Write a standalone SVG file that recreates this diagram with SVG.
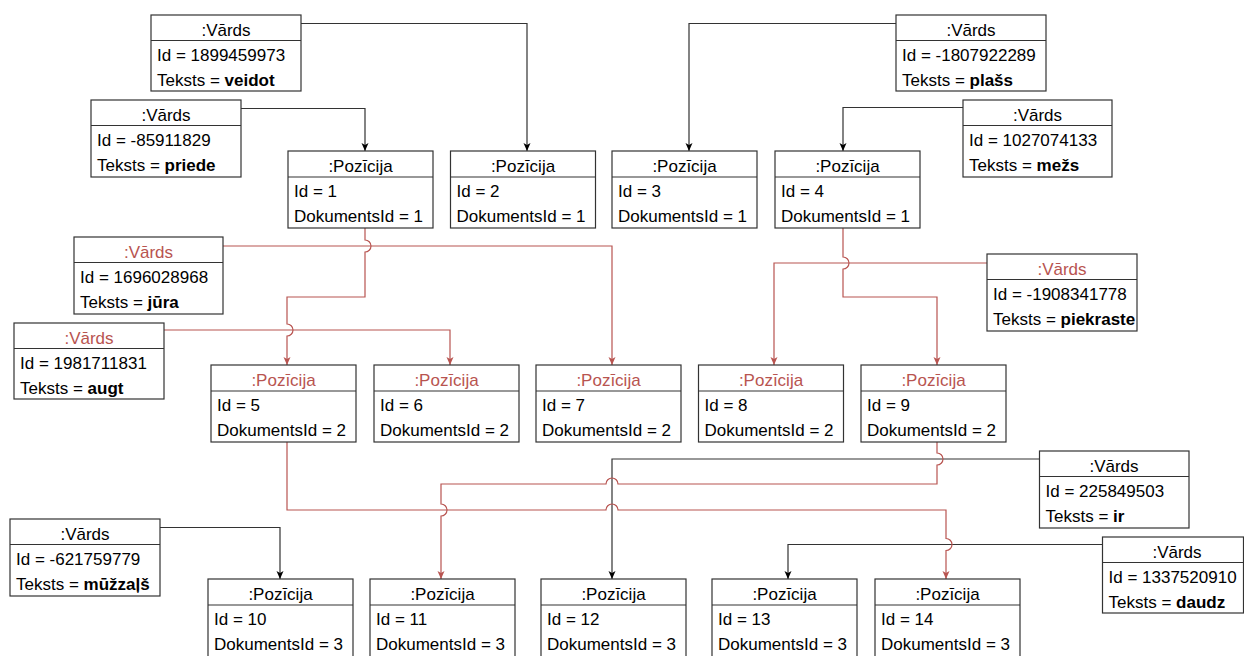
<svg xmlns="http://www.w3.org/2000/svg" width="1244" height="656" viewBox="0 0 1244 656">
  <style>
    .box { fill: #ffffff; stroke: #333333; stroke-width: 1.2; }
    .sep { stroke: #333333; stroke-width: 1.2; }
    .t { font-family: "Liberation Sans", Arial, Helvetica, sans-serif; font-size: 17px; fill: #000000; }
    .hd { text-anchor: middle; }
    .red { fill: #b85450; }
    .b { font-weight: bold; }
    .cb { fill: none; stroke: #333333; stroke-width: 1.2; }
    .cr { fill: none; stroke: #b85450; stroke-width: 1.2; }
  </style>
  <defs>
    <marker id="arrowBlack" viewBox="0 0 8 8" refX="8" refY="4" markerWidth="8" markerHeight="8" markerUnits="userSpaceOnUse" orient="auto">
      <path d="M0,0.5 L8,4 L0,7.5 L2,4 Z" fill="#000000"/>
    </marker>
    <marker id="arrowRed" viewBox="0 0 8 8" refX="8" refY="4" markerWidth="8" markerHeight="8" markerUnits="userSpaceOnUse" orient="auto">
      <path d="M0,0.5 L8,4 L0,7.5 L2,4 Z" fill="#b85450"/>
    </marker>
  </defs>

  <rect x="0" y="0" width="1244" height="656" fill="#ffffff"/>

  <!-- connectors -->
  <g id="connectors">
    <!-- document 1 -->
    <path class="cb" d="M301,23.5 H527 V151" marker-end="url(#arrowBlack)"/>
    <path class="cb" d="M241,108.5 H365 V151" marker-end="url(#arrowBlack)"/>
    <path class="cb" d="M896,23.5 H689 V151" marker-end="url(#arrowBlack)"/>
    <path class="cb" d="M963,107.5 H843 V151" marker-end="url(#arrowBlack)"/>
    <!-- document 2 -->
    <path class="cr" d="M365,228 V240 A6,6 0 0,1 365,252 V297 H287 V324 A6,6 0 0,1 287,336 V365" marker-end="url(#arrowRed)"/>
    <path class="cr" d="M223,246 H612 V365" marker-end="url(#arrowRed)"/>
    <path class="cr" d="M164,330 H450 V365" marker-end="url(#arrowRed)"/>
    <path class="cr" d="M843,228 V257 A6,6 0 0,1 843,269 V297 H937 V365" marker-end="url(#arrowRed)"/>
    <path class="cr" d="M987,263 H774 V365" marker-end="url(#arrowRed)"/>
    <!-- document 3 -->
    <path class="cb" d="M160,527.5 H280 V579" marker-end="url(#arrowBlack)"/>
    <path class="cb" d="M1039.5,459 H612 V579" marker-end="url(#arrowBlack)"/>
    <path class="cb" d="M1102.5,544.5 H788 V579" marker-end="url(#arrowBlack)"/>
    <path class="cr" d="M937,442 V453 A6,6 0 0,1 937,465 V484 H618 A6,6 0 0,0 606,484 H441 V504 A6,6 0 0,1 441,516 V579" marker-end="url(#arrowRed)"/>
    <path class="cr" d="M287,442 V510 H606 A6,6 0 0,1 618,510 H946 V538.5 A6,6 0 0,1 946,550.5 V579" marker-end="url(#arrowRed)"/>
  </g>

  <!-- top row -->
  <g id="vards-veidot">
    <rect class="box" x="151" y="15" width="150" height="76"/>
    <line class="sep" x1="151" y1="40.5" x2="301" y2="40.5"/>
    <text class="t hd" x="226" y="35.5">:Vārds</text>
    <text class="t" x="157" y="60.5">Id = 1899459973</text>
    <text class="t" x="157" y="85.5">Teksts = <tspan class="b">veidot</tspan></text>
  </g>
  <g id="vards-priede">
    <rect class="box" x="91" y="100" width="150" height="77"/>
    <line class="sep" x1="91" y1="125.5" x2="241" y2="125.5"/>
    <text class="t hd" x="166" y="120.5">:Vārds</text>
    <text class="t" x="97" y="145.5">Id = -85911829</text>
    <text class="t" x="97" y="170.5">Teksts = <tspan class="b">priede</tspan></text>
  </g>
  <g id="pozicija-1">
    <rect class="box" x="288" y="151" width="145" height="77"/>
    <line class="sep" x1="288" y1="177" x2="433" y2="177"/>
    <text class="t hd" x="360.5" y="172">:Pozīcija</text>
    <text class="t" x="294" y="197">Id = 1</text>
    <text class="t" x="294" y="222">DokumentsId = 1</text>
  </g>
  <g id="pozicija-2">
    <rect class="box" x="450.5" y="151" width="145" height="77"/>
    <line class="sep" x1="450.5" y1="177" x2="595.5" y2="177"/>
    <text class="t hd" x="523" y="172">:Pozīcija</text>
    <text class="t" x="456.5" y="197">Id = 2</text>
    <text class="t" x="456.5" y="222">DokumentsId = 1</text>
  </g>
  <g id="pozicija-3">
    <rect class="box" x="612" y="151" width="145" height="77"/>
    <line class="sep" x1="612" y1="177" x2="757" y2="177"/>
    <text class="t hd" x="684.5" y="172">:Pozīcija</text>
    <text class="t" x="618" y="197">Id = 3</text>
    <text class="t" x="618" y="222">DokumentsId = 1</text>
  </g>
  <g id="pozicija-4">
    <rect class="box" x="775" y="151" width="145" height="77"/>
    <line class="sep" x1="775" y1="177" x2="920" y2="177"/>
    <text class="t hd" x="847.5" y="172">:Pozīcija</text>
    <text class="t" x="781" y="197">Id = 4</text>
    <text class="t" x="781" y="222">DokumentsId = 1</text>
  </g>
  <g id="vards-plass">
    <rect class="box" x="896" y="15" width="150" height="76"/>
    <line class="sep" x1="896" y1="40.5" x2="1046" y2="40.5"/>
    <text class="t hd" x="971" y="35.5">:Vārds</text>
    <text class="t" x="902" y="60.5">Id = -1807922289</text>
    <text class="t" x="902" y="85.5">Teksts = <tspan class="b">plašs</tspan></text>
  </g>
  <g id="vards-mezs">
    <rect class="box" x="963" y="100" width="149" height="77"/>
    <line class="sep" x1="963" y1="125.5" x2="1112" y2="125.5"/>
    <text class="t hd" x="1037.5" y="120.5">:Vārds</text>
    <text class="t" x="969" y="145.5">Id = 1027074133</text>
    <text class="t" x="969" y="170.5">Teksts = <tspan class="b">mežs</tspan></text>
  </g>

  <!-- middle row -->
  <g id="vards-jura">
    <rect class="box" x="74" y="237" width="149" height="77"/>
    <line class="sep" x1="74" y1="262.5" x2="223" y2="262.5"/>
    <text class="t hd red" x="148.5" y="257.5">:Vārds</text>
    <text class="t" x="80" y="282.5">Id = 1696028968</text>
    <text class="t" x="80" y="307.5">Teksts = <tspan class="b">jūra</tspan></text>
  </g>
  <g id="vards-augt">
    <rect class="box" x="14" y="323" width="150" height="76"/>
    <line class="sep" x1="14" y1="348.5" x2="164" y2="348.5"/>
    <text class="t hd red" x="89" y="343.5">:Vārds</text>
    <text class="t" x="20" y="368.5">Id = 1981711831</text>
    <text class="t" x="20" y="393.5">Teksts = <tspan class="b">augt</tspan></text>
  </g>
  <g id="pozicija-5">
    <rect class="box" x="211" y="365" width="145" height="77"/>
    <line class="sep" x1="211" y1="391" x2="356" y2="391"/>
    <text class="t hd red" x="283.5" y="386">:Pozīcija</text>
    <text class="t" x="217" y="411">Id = 5</text>
    <text class="t" x="217" y="436">DokumentsId = 2</text>
  </g>
  <g id="pozicija-6">
    <rect class="box" x="374" y="365" width="145" height="77"/>
    <line class="sep" x1="374" y1="391" x2="519" y2="391"/>
    <text class="t hd red" x="446.5" y="386">:Pozīcija</text>
    <text class="t" x="380" y="411">Id = 6</text>
    <text class="t" x="380" y="436">DokumentsId = 2</text>
  </g>
  <g id="pozicija-7">
    <rect class="box" x="536" y="365" width="145" height="77"/>
    <line class="sep" x1="536" y1="391" x2="681" y2="391"/>
    <text class="t hd red" x="608.5" y="386">:Pozīcija</text>
    <text class="t" x="542" y="411">Id = 7</text>
    <text class="t" x="542" y="436">DokumentsId = 2</text>
  </g>
  <g id="pozicija-8">
    <rect class="box" x="698.5" y="365" width="145" height="77"/>
    <line class="sep" x1="698.5" y1="391" x2="843.5" y2="391"/>
    <text class="t hd red" x="771" y="386">:Pozīcija</text>
    <text class="t" x="704.5" y="411">Id = 8</text>
    <text class="t" x="704.5" y="436">DokumentsId = 2</text>
  </g>
  <g id="pozicija-9">
    <rect class="box" x="861" y="365" width="145" height="77"/>
    <line class="sep" x1="861" y1="391" x2="1006" y2="391"/>
    <text class="t hd red" x="933.5" y="386">:Pozīcija</text>
    <text class="t" x="867" y="411">Id = 9</text>
    <text class="t" x="867" y="436">DokumentsId = 2</text>
  </g>
  <g id="vards-piekraste">
    <rect class="box" x="987" y="254" width="150" height="77"/>
    <line class="sep" x1="987" y1="279.5" x2="1137" y2="279.5"/>
    <text class="t hd red" x="1062" y="274.5">:Vārds</text>
    <text class="t" x="993" y="299.5">Id = -1908341778</text>
    <text class="t" x="993" y="324.5">Teksts = <tspan class="b">piekraste</tspan></text>
  </g>

  <!-- bottom row -->
  <g id="vards-muzzals">
    <rect class="box" x="10" y="519" width="150" height="77"/>
    <line class="sep" x1="10" y1="544.5" x2="160" y2="544.5"/>
    <text class="t hd" x="85" y="539.5">:Vārds</text>
    <text class="t" x="16" y="564.5">Id = -621759779</text>
    <text class="t" x="16" y="589.5">Teksts = <tspan class="b">mūžzaļš</tspan></text>
  </g>
  <g id="pozicija-10">
    <rect class="box" x="208" y="579" width="145" height="78"/>
    <line class="sep" x1="208" y1="605" x2="353" y2="605"/>
    <text class="t hd" x="280.5" y="600">:Pozīcija</text>
    <text class="t" x="214" y="625">Id = 10</text>
    <text class="t" x="214" y="650">DokumentsId = 3</text>
  </g>
  <g id="pozicija-11">
    <rect class="box" x="370" y="579" width="145" height="78"/>
    <line class="sep" x1="370" y1="605" x2="515" y2="605"/>
    <text class="t hd" x="442.5" y="600">:Pozīcija</text>
    <text class="t" x="376" y="625">Id = 11</text>
    <text class="t" x="376" y="650">DokumentsId = 3</text>
  </g>
  <g id="pozicija-12">
    <rect class="box" x="541" y="579" width="145" height="78"/>
    <line class="sep" x1="541" y1="605" x2="686" y2="605"/>
    <text class="t hd" x="613.5" y="600">:Pozīcija</text>
    <text class="t" x="547" y="625">Id = 12</text>
    <text class="t" x="547" y="650">DokumentsId = 3</text>
  </g>
  <g id="pozicija-13">
    <rect class="box" x="712" y="579" width="145" height="78"/>
    <line class="sep" x1="712" y1="605" x2="857" y2="605"/>
    <text class="t hd" x="784.5" y="600">:Pozīcija</text>
    <text class="t" x="718" y="625">Id = 13</text>
    <text class="t" x="718" y="650">DokumentsId = 3</text>
  </g>
  <g id="pozicija-14">
    <rect class="box" x="875" y="579" width="145" height="78"/>
    <line class="sep" x1="875" y1="605" x2="1020" y2="605"/>
    <text class="t hd" x="947.5" y="600">:Pozīcija</text>
    <text class="t" x="881" y="625">Id = 14</text>
    <text class="t" x="881" y="650">DokumentsId = 3</text>
  </g>
  <g id="vards-ir">
    <rect class="box" x="1039.5" y="451" width="149.5" height="77"/>
    <line class="sep" x1="1039.5" y1="476.5" x2="1189" y2="476.5"/>
    <text class="t hd" x="1114" y="471.5">:Vārds</text>
    <text class="t" x="1045.5" y="496.5">Id = 225849503</text>
    <text class="t" x="1045.5" y="521.5">Teksts = <tspan class="b">ir</tspan></text>
  </g>
  <g id="vards-daudz">
    <rect class="box" x="1102.5" y="537" width="141" height="76"/>
    <line class="sep" x1="1102.5" y1="562.5" x2="1243.5" y2="562.5"/>
    <text class="t hd" x="1177" y="557.5">:Vārds</text>
    <text class="t" x="1108.5" y="582.5">Id = 1337520910</text>
    <text class="t" x="1108.5" y="607.5">Teksts = <tspan class="b">daudz</tspan></text>
  </g>
</svg>
